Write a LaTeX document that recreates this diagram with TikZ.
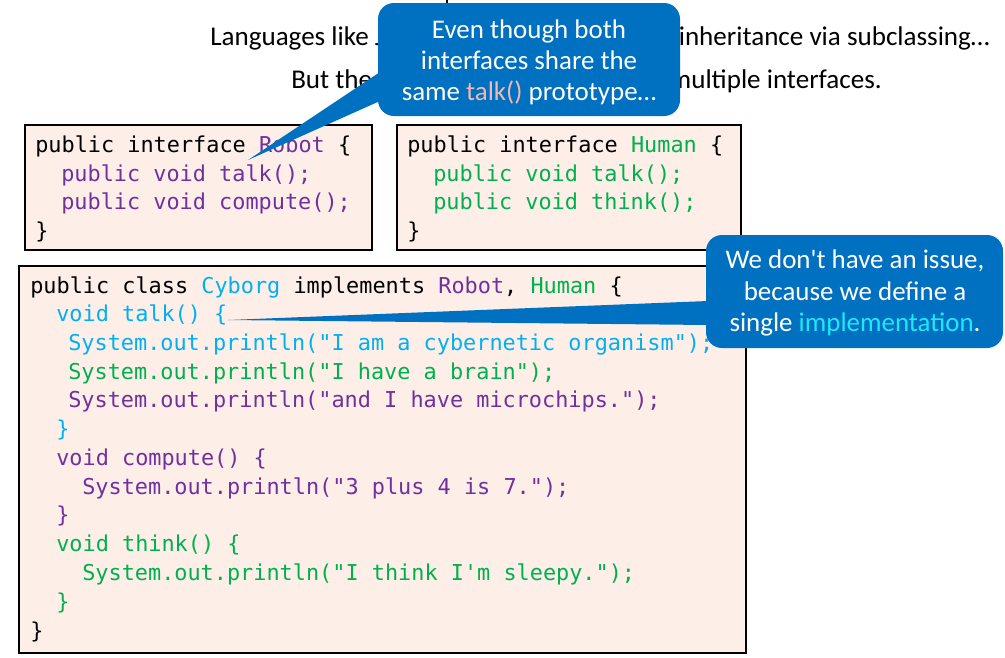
\documentclass[tikz,border=0pt]{standalone}
\usepackage{fontspec}
\setmainfont{Carlito}
\newfontfamily\codefont{DejaVu Sans Mono}
\definecolor{cpurple}{HTML}{7030A0}
\definecolor{cgreen}{HTML}{00B050}
\definecolor{cblue}{HTML}{00B0F0}
\definecolor{callblue}{HTML}{0070C0}
\definecolor{boxfill}{HTML}{FDEFE7}
\definecolor{talkpink}{HTML}{F4B8B0}
\definecolor{implcyan}{HTML}{1EE8FF}
\begin{document}
\begin{tikzpicture}[x=0.75pt,y=-0.75pt,
  codebox/.style={draw=black, line width=0.8pt, fill=boxfill},
  code/.style={anchor=base west, inner sep=0pt, font=\codefont\fontsize{16.4}{19}\selectfont},
  sans/.style={inner sep=0pt, font=\fontsize{20.3}{24}\selectfont},
  calltext/.style={inner sep=0pt, align=center, text=white, font=\fontsize{20.2}{23.3}\selectfont},
  callout/.style={fill=callblue, rounded corners=12pt}]
\useasboundingbox (0,0) rectangle (1005,657);
\fill[white] (0,0) rectangle (1005,657);

% clipped title fragment
\draw[line width=1.4pt] (447,0) -- (447,8);

% heading texts
\node[sans, anchor=base west] (h1a) at (210,45) {Languages like J};
\node[sans, anchor=base east] (h1b) at (990,45) {inheritance via subclassing…};
\node[sans, anchor=base west] (h2a) at (291,88) {But the};
\node[sans, anchor=base east] (h2b) at (882,88) {multiple interfaces.};

% code boxes
\draw[codebox] (25,125) rectangle (372,250);
\draw[codebox] (397,125) rectangle (741,250);
\draw[codebox] (19,266) rectangle (746,653);

% Robot
\node[code] (r1) at (35,152) {public interface {\color{cpurple}Robot} \{};
\node[code, text=cpurple] (r2) at (61,181) {public void talk();};
\node[code, text=cpurple] (r3) at (61,209) {public void compute();};
\node[code] (r4) at (35,238) {\}};

% Human
\node[code] (u1) at (407,152) {public interface {\color{cgreen}Human} \{};
\node[code, text=cgreen] (u2) at (433,181) {public void talk();};
\node[code, text=cgreen] (u3) at (433,209) {public void think();};
\node[code] (u4) at (407,238) {\}};

% Cyborg
\node[code] (c1) at (30,293) {public class {\color{cblue}Cyborg} implements {\color{cpurple}Robot}, {\color{cgreen}Human} \{};
\node[code, text=cblue] (c2) at (56,321) {void talk() \{};
\node[code, text=cblue] (c3) at (68,350) {System.out.println("I am a cybernetic organism");};
\node[code, text=cgreen] (c4) at (68,379) {System.out.println("I have a brain");};
\node[code, text=cpurple] (c5) at (68,407) {System.out.println("and I have microchips.");};
\node[code, text=cblue] (c6) at (56,436) {\}};
\node[code, text=cpurple] (c7) at (56,465) {void compute() \{};
\node[code, text=cpurple] (c8) at (82,494) {System.out.println("3 plus 4 is 7.");};
\node[code, text=cpurple] (c9) at (56,522) {\}};
\node[code, text=cgreen] (c10) at (56,551) {void think() \{};
\node[code, text=cgreen] (c11) at (82,580) {System.out.println("I think I'm sleepy.");};
\node[code, text=cgreen] (c12) at (56,609) {\}};
\node[code] (c13) at (30,638) {\}};

% callout 1
\coordinate (tip1) at (248,160);
\coordinate (b1a) at (380,72);
\coordinate (b1b) at (380,101);
\fill[callblue] (tip1) -- (b1a) -- (b1b) -- cycle;
\fill[callout] (378,3) rectangle (680,116);
\node[calltext] (t1) at (529,62) {Even though both\\interfaces share the\\same {\color{talkpink}talk()} prototype…};

% callout 2
\coordinate (tip2) at (228,320);
\coordinate (b2a) at (708,301);
\coordinate (b2b) at (708,325);
\fill[callblue] (tip2) -- (b2a) -- (b2b) -- cycle;
\fill[callout] (706,235) rectangle (1003,348);
\node[calltext] (t2) at (855,293) {We don\textquotesingle t have an issue,\\because we define a\\single {\color{implcyan}implementation}.};
\end{tikzpicture}
\end{document}
